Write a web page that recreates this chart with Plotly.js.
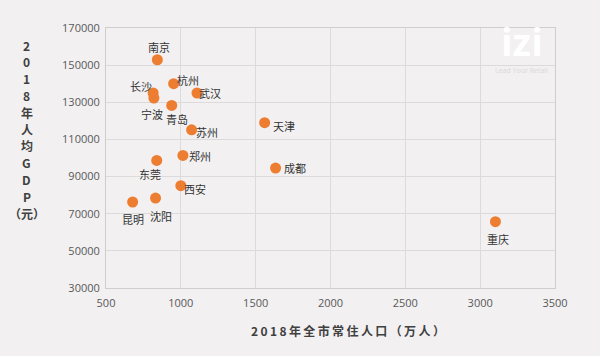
<!DOCTYPE html>
<html><head><meta charset="utf-8">
<script src="https://cdn.plot.ly/plotly-3.0.1.min.js"></script>
<style>html,body{margin:0;padding:0;background:#f2f0f1;}#chart{width:600px;height:356px;}</style>
</head><body><div id="chart"></div>
<script>
const cities = ["南京","杭州","长沙","宁波","武汉","青岛","苏州","天津","郑州","东莞","成都","西安","沈阳","昆明","重庆"];
const population = [843, 952, 815, 820, 1108, 939, 1072, 1560, 1014, 839, 1633, 1000, 831, 678, 3102];
const gdpPerCapita = [152900, 140000, 135000, 132300, 135000, 128300, 115200, 119000, 101400, 98700, 94600, 85100, 78400, 76300, 65700];
// label offsets in pixels (dx, dy up)
const labelDx = [2, 14, -12, -2, 13, 5, 15, 19, 17, -7, 19, 14, 5, 0, 3];
const labelDy = [13, 4, 7, -16, 0, -14, -2, -3, -1, -14, 0, -3, -18, -17, -17];
const xTicks = [500,1000,1500,2000,2500,3000,3500];
const yTicks = [30000,50000,70000,90000,110000,130000,150000,170000];
const yTitleChars = ["2","0","1","8","年","人","均","G","D","P","（元）"];
const xTitle = "2018年全市常住人口（万人）";

const trace = {
  type: "scatter", mode: "markers",
  x: population, y: gdpPerCapita,
  marker: {color: "#ed7d31", size: 11},
  cliponaxis: false, hoverinfo: "none"
};
const labelAnns = cities.map((c, i) => ({
  xref: "x", yref: "y", x: population[i], y: gdpPerCapita[i],
  text: c, showarrow: false, xanchor: "center", yanchor: "middle",
  xshift: labelDx[i], yshift: labelDy[i],
  font: {family: "Noto Sans CJK SC", size: 11, color: "#333333"}
}));
// vertical stacked y title, one character per line
const plotH = 356 - 28 - 68;
const yTitleAnns = yTitleChars.map((ch, i) => ({
  xref: "paper", yref: "paper", x: -0.176, y: 1 - (45 + i * 16.8 - 28) / plotH,
  xanchor: "center", yanchor: "middle", text: "<b>" + ch + "</b>", showarrow: false,
  font: {family: "Noto Sans CJK SC", size: 12, color: "#404040"}
}));
const layout = {
  width: 600, height: 356,
  paper_bgcolor: "#f2f0f1", plot_bgcolor: "#f2f0f1",
  margin: {l: 106, r: 45, t: 28, b: 68},
  showlegend: false,
  xaxis: {range: [500, 3500], tickvals: xTicks, ticktext: xTicks.map(String),
    showgrid: true, gridcolor: "#dcdadb", gridwidth: 1, zeroline: false,
    showline: true, linecolor: "#cfcdce", mirror: true,
    tickfont: {family: "Open Sans", size: 11, color: "#595959"}, ticks: "", ticklen: 0,
    ticklabelstandoff: 5},
  yaxis: {range: [30000, 170000], tickvals: yTicks, ticktext: yTicks.map(String),
    showgrid: true, gridcolor: "#dcdadb", gridwidth: 1, zeroline: false,
    showline: true, linecolor: "#cfcdce", mirror: true,
    tickfont: {family: "Open Sans", size: 11, color: "#595959"}, ticks: "", ticklen: 0,
    ticklabelstandoff: 3},
  annotations: labelAnns.concat(yTitleAnns, [
    {xref: "paper", yref: "paper", x: 0.54, y: -0.163, xanchor: "center", yanchor: "middle",
     text: "<b>" + xTitle.split("").join("\u2009") + "</b>", showarrow: false,
     font: {family: "Noto Sans CJK SC", size: 12, color: "#404040"}},
    {xref: "paper", yref: "paper", x: 0.926, y: 0.95, xanchor: "center", yanchor: "middle",
     text: "<b>izi</b>", showarrow: false,
     font: {family: "Open Sans", size: 38, color: "#ffffff"}},
    {xref: "paper", yref: "paper", x: 0.926, y: 0.835, xanchor: "center", yanchor: "middle",
     text: "Lead Your Retail", showarrow: false,
     font: {family: "Open Sans", size: 7, color: "#dad8d9"}}
  ])
};
Plotly.newPlot("chart", [trace], layout, {staticPlot: true, displayModeBar: false});
</script></body></html>
